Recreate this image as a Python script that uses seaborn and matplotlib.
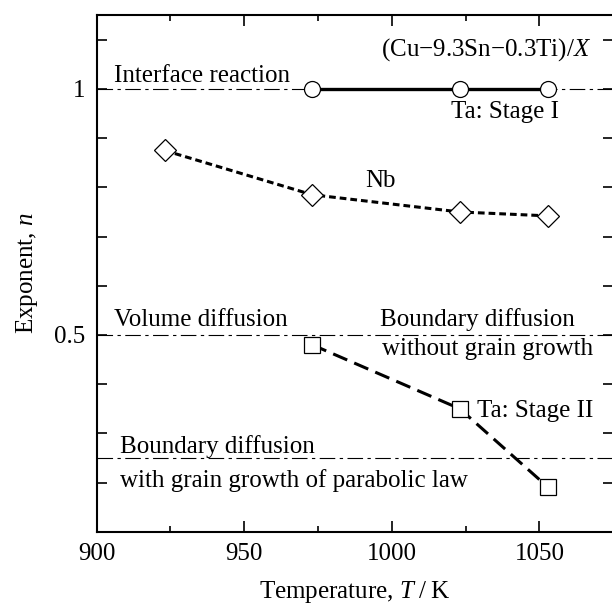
import matplotlib
matplotlib.use("Agg")
import matplotlib.pyplot as plt
import seaborn as sns
import pandas as pd
from matplotlib.ticker import MultipleLocator, FixedLocator

# ---- data ----
ta1_T = [973, 1023, 1053]
ta1_n = [1.0, 1.0, 1.0]
nb_T = [923, 973, 1023, 1053]
nb_n = [0.875, 0.785, 0.75, 0.742]
ta2_T = [973, 1023, 1053]
ta2_n = [0.48, 0.35, 0.19]
ref_levels = [1.0, 0.5, 0.25]

sns.set_theme(style="ticks")
plt.rcParams['font.family'] = ['Liberation Serif', 'DejaVu Serif']
plt.rcParams['mathtext.fontset'] = 'custom'
plt.rcParams['mathtext.rm'] = 'Liberation Serif'
plt.rcParams['mathtext.it'] = 'Liberation Serif:italic'

FS = 18
fig = plt.figure(figsize=(6.12, 6.07), dpi=100)
ax = fig.add_axes([0.158, 0.124, 0.844, 0.851])

for lv in ref_levels:
    ax.axhline(lv, color='black', lw=0.8, linestyle=(0, (14, 4, 3, 4)), zorder=1)

df1 = pd.DataFrame({'T': ta1_T, 'n': ta1_n})
df2 = pd.DataFrame({'T': nb_T, 'n': nb_n})
df3 = pd.DataFrame({'T': ta2_T, 'n': ta2_n})

sns.lineplot(data=df1, x='T', y='n', ax=ax, color='black', lw=2.4,
             marker='o', markersize=11.5, markerfacecolor='white',
             markeredgecolor='black', markeredgewidth=0.9, zorder=3)
sns.lineplot(data=df2, x='T', y='n', ax=ax, color='black', lw=2.2,
             linestyle=(0, (2.2, 1.3)),
             marker='D', markersize=11, markerfacecolor='white',
             markeredgecolor='black', markeredgewidth=0.9, zorder=3)
sns.lineplot(data=df3, x='T', y='n', ax=ax, color='black', lw=2.2,
             linestyle=(0, (5.0, 2.5)),
             marker='s', markersize=11, markerfacecolor='white',
             markeredgecolor='black', markeredgewidth=0.9, zorder=3)

ax.set_xlim(900, 1075)
ax.set_ylim(0.1, 1.15)
ax.xaxis.set_major_locator(MultipleLocator(50))
ax.xaxis.set_minor_locator(MultipleLocator(25))
ax.yaxis.set_major_locator(FixedLocator([0.5, 1.0]))
ax.yaxis.set_minor_locator(FixedLocator([0.2, 0.3, 0.4, 0.6, 0.7, 0.8, 0.9, 1.1]))
ax.set_yticklabels(['0.5', '1'])
ax.tick_params(axis='both', which='both', direction='in', top=True, right=True,
               width=1.2, color='black', labelsize=FS, labelcolor='black')
ax.tick_params(axis='x', which='major', length=8, pad=8)
ax.tick_params(axis='x', which='minor', length=4)
ax.tick_params(axis='y', which='both', length=7.5, pad=8)
for s in ax.spines.values():
    s.set_linewidth(1.5)
    s.set_color('black')

ax.set_xlabel('Temperature, $T$\u2009/\u2009K', fontsize=FS, color='black', labelpad=10)
ax.set_ylabel('Exponent, $n$', fontsize=FS, color='black', labelpad=10)

tk = dict(fontsize=FS, color='black', va='baseline')
ax.text(906, 1.014, 'Interface reaction', ha='left', **tk)
ax.text(1067.5, 1.067, '(Cu\u22129.3Sn\u22120.3Ti)/$X$', ha='right', **tk)
ax.text(1020.2, 0.94, 'Ta: Stage I', ha='left', **tk)
ax.text(991, 0.80, 'Nb', ha='left', **tk)
ax.text(906, 0.518, 'Volume diffusion', ha='left', **tk)
ax.text(996, 0.518, 'Boundary diffusion', ha='left', **tk)
ax.text(996.5, 0.46, 'without grain growth', ha='left', **tk)
ax.text(1029, 0.334, 'Ta: Stage II', ha='left', **tk)
ax.text(908, 0.261, 'Boundary diffusion', ha='left', **tk)
ax.text(908, 0.19, 'with grain growth of parabolic law', ha='left', **tk)

fig.savefig('out.png', dpi=100)
